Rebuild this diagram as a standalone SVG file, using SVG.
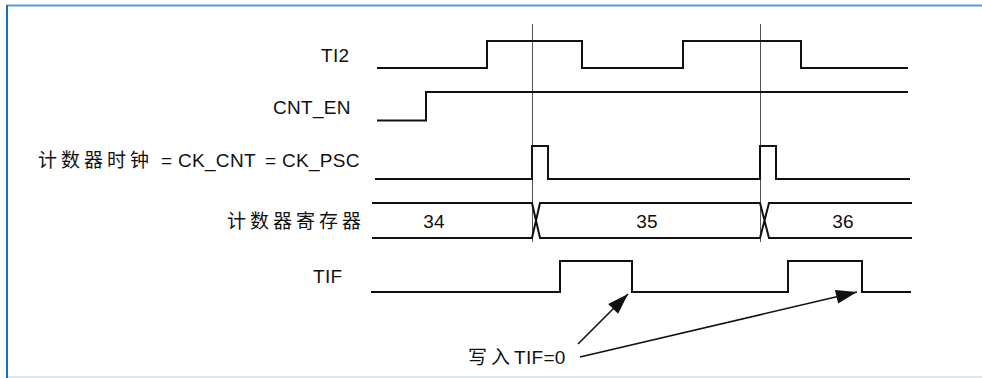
<svg xmlns="http://www.w3.org/2000/svg" width="982" height="378" viewBox="0 0 982 378">
<style>
.sig{fill:none;stroke:#111;stroke-width:2;stroke-linejoin:miter;stroke-linecap:square}
.guide{fill:none;stroke:#555;stroke-width:1}
.lbl{font-family:"Liberation Sans","Noto Sans CJK SC",sans-serif;font-size:19px;fill:#111;letter-spacing:0.3px}
.cjk{font-family:"Noto Sans CJK SC","Liberation Sans",sans-serif;font-size:19px;fill:#111;letter-spacing:4px}
.arr{fill:none;stroke:#111;stroke-width:1.6}
</style>
<defs>
<marker id="ah" viewBox="0 0 10 10" refX="10" refY="5" markerWidth="10" markerHeight="10" markerUnits="userSpaceOnUse" orient="auto" overflow="visible">
<path d="M-11,-2 L10,5 L-11,12 Z" fill="#111"/>
</marker>
</defs>
<rect x="0" y="0" width="982" height="378" fill="#fff"/>
<g id="frame">
<line x1="7" y1="5.5" x2="982" y2="5.5" stroke="#5b9bd5" stroke-width="2"/>
<line x1="7" y1="5" x2="7" y2="378" stroke="#1f6fb5" stroke-width="2"/>
<line x1="8" y1="377" x2="982" y2="377" stroke="#d3dee9" stroke-width="1.5"/>
</g>
<g id="guides">
<line class="guide" x1="532.5" y1="24" x2="532.5" y2="242"/>
<line class="guide" x1="760.5" y1="24" x2="760.5" y2="242"/>
</g>
<g id="TI2">
<text class="lbl" x="321" y="62">TI2</text>
<polyline class="sig" points="378,68 487,68 487,41 582,41 582,68 683,68 683,41 801,41 801,68 907,68"/>
</g>
<g id="CNT_EN">
<text class="lbl" x="273" y="114">CNT_EN</text>
<polyline class="sig" points="378,120.5 426,120.5 426,92 907,92"/>
</g>
<g id="CK_CNT">
<text x="38" y="167"><tspan class="cjk">计数器时钟</tspan><tspan class="lbl" x="161">=</tspan><tspan class="lbl" x="178">CK_CNT</tspan><tspan class="lbl" x="265">=</tspan><tspan class="lbl" x="282">CK_PSC</tspan></text>
<polyline class="sig" points="376,179 532,179 532,146 548,146 548,179 760,179 760,146 776,146 776,179 909,179"/>
</g>
<g id="register">
<text class="cjk" x="227" y="228">计数器寄存器</text>
<path class="sig" d="M373,203 H532 L540,238 H760 L769,203 H911 M373,238 H532 L540,203 H760 L769,238 H911"/>
<text class="lbl" x="434" y="228" text-anchor="middle">34</text>
<text class="lbl" x="647" y="228" text-anchor="middle">35</text>
<text class="lbl" x="843" y="228" text-anchor="middle">36</text>
</g>
<g id="TIF">
<text class="lbl" x="313" y="283">TIF</text>
<polyline class="sig" points="372,292 560,292 560,261 632,261 632,292 788,292 788,261 862,261 862,292 910,292"/>
</g>
<g id="note">
<text x="468" y="364"><tspan class="cjk" letter-spacing="2px">写入</tspan><tspan class="lbl" x="514">TIF=0</tspan></text>
</g>
<g id="connectors">
<line class="arr" x1="578" y1="344" x2="628" y2="294" marker-end="url(#ah)"/>
<line class="arr" x1="580" y1="357" x2="857" y2="292" marker-end="url(#ah)"/>
</g>
</svg>
